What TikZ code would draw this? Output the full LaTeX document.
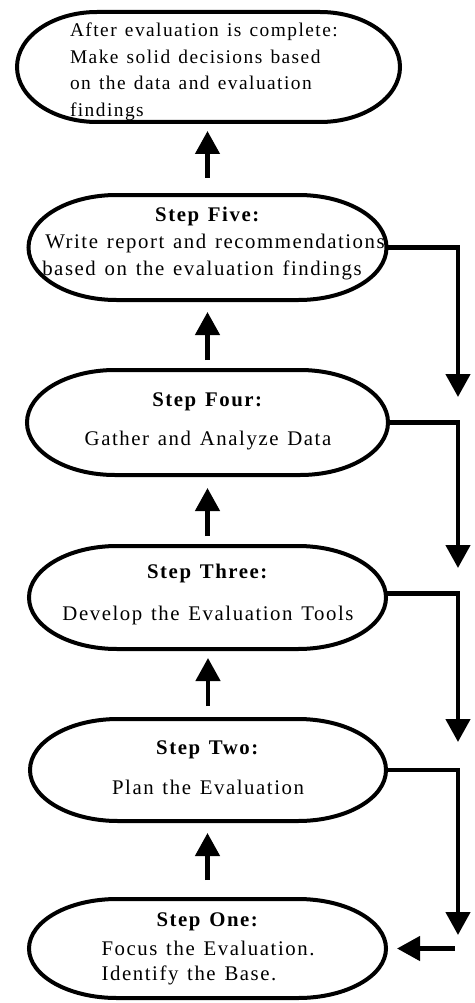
\documentclass[tikz,border=0pt]{standalone}
\usepackage{fontspec}
\setmainfont{Liberation Serif}[LetterSpace=7.5, WordSpace=1.3]
\usetikzlibrary{arrows.meta}
\newcommand\stadium[3]{%
  \draw[outline] ([xshift=#2]#1.north west) -- ([xshift=-#2]#1.north east)
    arc[start angle=90, end angle=-90, x radius=#2, y radius=#3]
    -- ([xshift=#2]#1.south west)
    arc[start angle=270, end angle=90, x radius=#2, y radius=#3] -- cycle;}
\begin{document}
\begin{tikzpicture}[x=1pt,y=-1pt,
  outline/.style={line width=4pt},
  box/.style={draw=none, inner sep=0pt, outer sep=0pt},
  txt/.style={inner sep=0pt, outer sep=0pt, font=\fontsize{20.8pt}{26.7pt}\selectfont},
  flow/.style={line width=4.5pt, -{Triangle[width=24pt,length=23pt]}},
]
\useasboundingbox[fill=white] (0,0) rectangle (474,1003);

% shape nodes
\node[box, minimum width=383pt, minimum height=110pt] (sF) at (208.5,67) {};
\node[box, minimum width=358pt, minimum height=105pt] (s5) at (207.5,247.5) {};
\node[box, minimum width=361pt, minimum height=105pt] (s4) at (207.5,422.5) {};
\node[box, minimum width=357pt, minimum height=103pt] (s3) at (207.5,597.5) {};
\node[box, minimum width=356pt, minimum height=102pt] (s2) at (208,770) {};
\node[box, minimum width=357pt, minimum height=99pt] (s1) at (207.5,948.5) {};

\stadium{sF}{80pt}{55pt}
\stadium{s5}{88pt}{52.5pt}
\stadium{s4}{88pt}{52.5pt}
\stadium{s3}{88pt}{51.5pt}
\stadium{s2}{88pt}{51pt}
\stadium{s1}{88pt}{49.5pt}

% texts (base anchor = baseline of the last line)
\node[txt, font=\fontsize{19.4pt}{26.7pt}\selectfont, align=left, anchor=base west] (tF) at (70,116.7)
  {After evaluation is complete:\\Make solid decisions based\\on the data and evaluation\\findings};
\node[txt, align=center, anchor=base] (t5) at (208,275)
  {\textbf{Step Five:}\\\hspace*{14pt}Write report and recommendations\\based on the evaluation findings\hspace*{12pt}};
\node[txt, align=center, anchor=base] (t4) at (208,445)
  {\textbf{Step Four:}\\[11.6pt]Gather and Analyze Data};
\node[txt, align=center, anchor=base] (t3) at (208,620)
  {\textbf{Step Three:}\\[15pt]Develop the Evaluation Tools};
\node[txt, align=center, anchor=base] (t2) at (208,794)
  {\textbf{Step Two:}\\[13.3pt]Plan the Evaluation};
\node[txt, align=center, anchor=base] (t1) at (208,980)
  {\textbf{Step One:}\\[1.6pt]Focus the Evaluation.\\[-1.7pt]Identify the Base.\hspace*{38pt}};

% upward arrows
\draw[flow, shorten <=17pt, shorten >=9pt] (s5.north) -- (s5.north |- sF.south);
\draw[flow, shorten <=10pt, shorten >=12pt] (s4.north) -- (s5.south);
\draw[flow, shorten <=10pt, shorten >=13pt] (s3.north) -- (s4.south);
\draw[flow, shorten <=13pt, shorten >=9pt] (s2.north) -- (s2.north |- s3.south);
\draw[flow, shorten <=19pt, shorten >=12pt] (s1.north) -- (s1.north |- s2.south);

% right-hand connectors
\coordinate (d5) at (458,397);
\coordinate (d4) at (458,568);
\coordinate (d3) at (458,742);
\coordinate (d2) at (458,935);
\coordinate (e1) at (455,948.5);
\draw[flow] (s5.east) -| (d5);
\draw[flow] (s4.east) -| (d4);
\draw[flow] ([yshift=4pt]s3.east) -| (d3);
\draw[flow] (s2.east) -| (d2);
\draw[flow, shorten >=11pt] (e1) -- (s1.east);
\end{tikzpicture}
\end{document}
